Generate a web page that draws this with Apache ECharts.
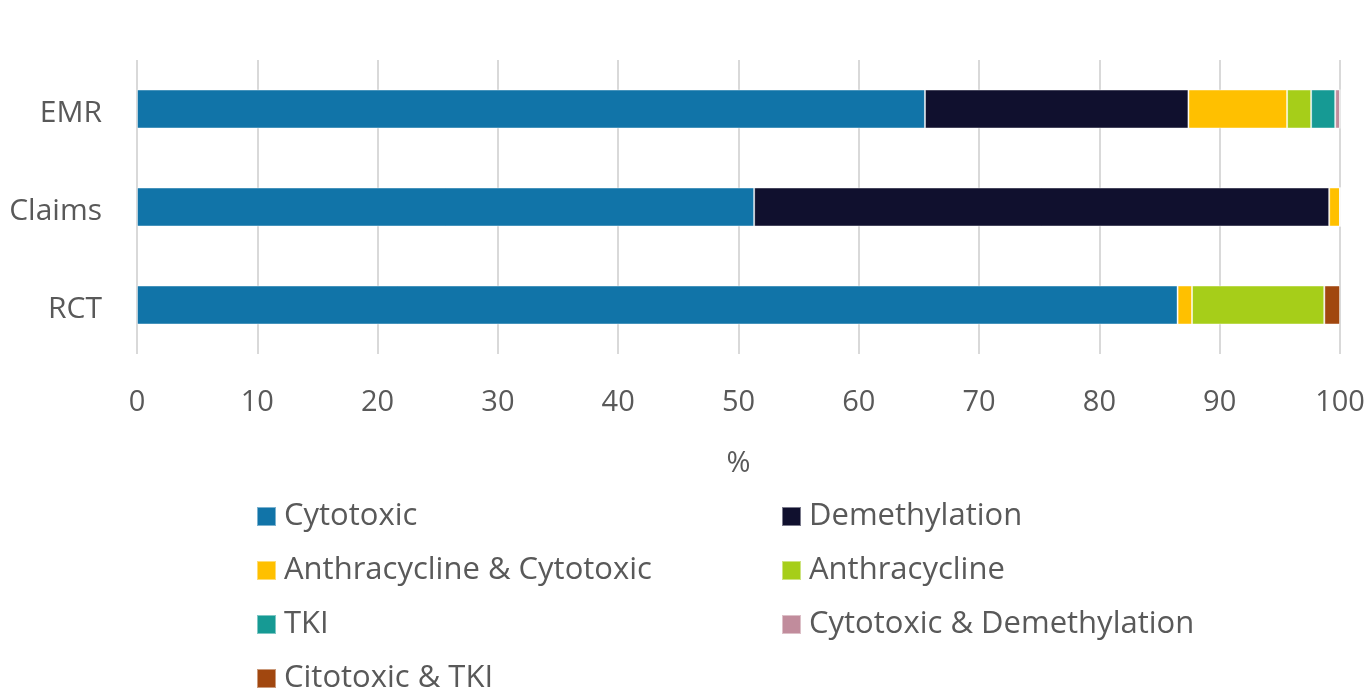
<!DOCTYPE html>
<html>
<head>
<meta charset="utf-8">
<script src="https://cdn.jsdelivr.net/npm/echarts@6/dist/echarts.min.js"></script>
<style>
  html, body { margin: 0; padding: 0; background: #fff; }
  #chart { width: 1371px; height: 691px; }
</style>
</head>
<body>
<div id="chart"></div>
<script>
// Data sources (top to bottom on the chart)
const categories = ['EMR', 'Claims', 'RCT'];
const xTicks = [0, 10, 20, 30, 40, 50, 60, 70, 80, 90, 100];

// Share of patients (%) by regimen, per source
const cytotoxic            = [65.5, 51.3, 86.5];
const demethylation        = [21.9, 47.8, 0];
const anthraCytotoxic      = [8.2, 0.9, 1.2];
const anthracycline        = [2.0, 0, 11.0];
const tki                  = [2.0, 0, 0];
const cytotoxicDemethyl    = [0.4, 0, 0];
const citotoxicTki         = [0, 0, 1.3];

const seriesDefs = [
  { name: 'Cytotoxic', data: cytotoxic, color: '#1174A8' },
  { name: 'Demethylation', data: demethylation, color: '#10102E' },
  { name: 'Anthracycline & Cytotoxic', data: anthraCytotoxic, color: '#FFC000' },
  { name: 'Anthracycline', data: anthracycline, color: '#A6CE19' },
  { name: 'TKI', data: tki, color: '#169A94' },
  { name: 'Cytotoxic & Demethylation', data: cytotoxicDemethyl, color: '#C18C9C' },
  { name: 'Citotoxic & TKI', data: citotoxicTki, color: '#A1470F' }
];

const FONT = '"Open Sans", sans-serif';
const TEXT = '#595959';

const legendBase = {
  orient: 'vertical',
  icon: 'rect',
  padding: 0,
  height: 260,
  itemWidth: 19,
  itemHeight: 19,
  itemGap: 23,
  selectedMode: false,
  textStyle: { fontFamily: FONT, fontSize: 31, color: TEXT, lineHeight: 30, padding: [0, 0, 0, 3] }
};

const chart = echarts.init(document.getElementById('chart'), null, { renderer: 'canvas' });
chart.setOption({
  animation: false,
  backgroundColor: '#fff',
  grid: { left: 137, right: 31, top: 60, height: 294, containLabel: false },
  xAxis: {
    type: 'value',
    min: 0,
    max: 100,
    interval: 10,
    name: '%',
    nameLocation: 'middle',
    nameGap: 95,
    nameTextStyle: { fontFamily: FONT, fontSize: 29, color: TEXT },
    axisLine: { show: false },
    axisTick: { show: false },
    splitLine: { show: true, lineStyle: { color: '#D9D9D9', width: 2 } },
    axisLabel: {
      margin: 34,
      fontFamily: FONT,
      fontSize: 29,
      color: TEXT,
      formatter: v => (xTicks.includes(v) ? String(v) : '')
    }
  },
  yAxis: {
    type: 'category',
    data: categories,
    inverse: true,
    axisLine: { show: false },
    axisTick: { show: false },
    axisLabel: {
      margin: 35,
      formatter: '{v|{value}}',
      rich: { v: { fontFamily: FONT, fontSize: 30, color: TEXT, padding: [9, 0, 0, 0] } }
    }
  },
  legend: [
    Object.assign({}, legendBase, {
      left: 256, top: 501,
      data: ['Cytotoxic', 'Anthracycline & Cytotoxic', 'TKI', 'Citotoxic & TKI']
    }),
    Object.assign({}, legendBase, {
      left: 781, top: 501,
      data: ['Demethylation', 'Anthracycline', 'Cytotoxic & Demethylation']
    })
  ],
  series: seriesDefs.map(s => ({
    name: s.name,
    type: 'bar',
    stack: 'total',
    barWidth: 39,
    data: s.data,
    itemStyle: { color: s.color, borderColor: 'rgba(255,255,255,0.45)', borderWidth: 1 },
    emphasis: { disabled: true }
  }))
});
</script>
</body>
</html>
